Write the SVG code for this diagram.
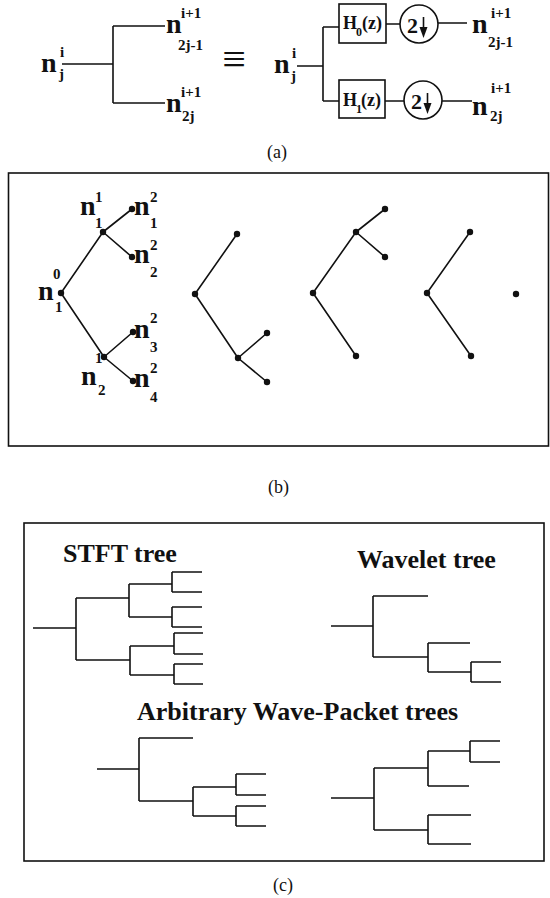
<svg xmlns="http://www.w3.org/2000/svg" width="550" height="898" viewBox="0 0 550 898">
<style>
.n{font-family:"Liberation Serif",serif;font-weight:bold;font-size:28px;fill:#111}
.s{font-family:"Liberation Serif",serif;font-weight:bold;font-size:15px;fill:#111}
.h{font-family:"Liberation Serif",serif;font-weight:bold;font-size:18px;fill:#111}
.hs{font-family:"Liberation Serif",serif;font-weight:bold;font-size:12px;fill:#111}
.two{font-family:"Liberation Serif",serif;font-weight:bold;font-size:22px;fill:#111}
.t{font-family:"Liberation Serif",serif;font-weight:bold;font-size:26px;fill:#111}
.cap{font-family:"Liberation Serif",serif;font-size:18px;fill:#111}
.ln{stroke:#111;stroke-width:1.6;fill:none}
.fr{stroke:#111;stroke-width:1.6;fill:none}
.dot{fill:#111}
</style>
<rect width="550" height="898" fill="#fff"/>

<!-- (a) left tree -->
<g id="a-tree">
<path class="ln" d="M62,64H113M113,26V103M113,26H165M113,103H165"/>
<text class="n" x="41" y="72">n</text><text class="s" x="60" y="57">i</text><text class="s" x="59" y="79">j</text>
<text class="n" x="166" y="33">n</text><text class="s" x="181" y="18">i+1</text><text class="s" x="178" y="50">2j-1</text>
<text class="n" x="166" y="112">n</text><text class="s" x="181" y="97">i+1</text><text class="s" x="182" y="121">2j</text>
</g>
<g id="equiv"><text x="234" y="73" text-anchor="middle" style="font-family:'Liberation Serif',serif;font-size:42px;fill:#111">≡</text></g>

<!-- (a) right filter bank -->
<g id="a-bank-connectors">
<path class="ln" d="M297,66H323M323,27V101M323,27H339M323,101H339M386,24H400M438,23H467M385,101H404M442,101H472"/>
</g>
<g id="a-in"><text class="n" x="274" y="73">n</text><text class="s" x="292" y="58">i</text><text class="s" x="291" y="81">j</text></g>
<g id="H0"><rect class="ln" x="339" y="4" width="47" height="39"/><text class="h" x="343" y="29">H</text><text class="hs" x="356" y="36">0</text><text class="h" x="362" y="29">(z)</text></g>
<g id="H1"><rect class="ln" x="339" y="80" width="46" height="38"/><text class="h" x="343" y="106">H</text><text class="hs" x="356" y="113">1</text><text class="h" x="361" y="106">(z)</text></g>
<g id="D0"><circle class="ln" cx="419" cy="24" r="19"/><text class="two" x="407" y="33">2</text><path class="ln" d="M423.5,17V29"/><path class="dot" d="M419.5,27H427.5L423.5,38Z"/></g>
<g id="D1"><circle class="ln" cx="423" cy="100" r="19"/><text class="two" x="411" y="109">2</text><path class="ln" d="M427.5,93V105"/><path class="dot" d="M423.5,103H431.5L427.5,114Z"/></g>
<g id="a-out0"><text class="n" x="472" y="33">n</text><text class="s" x="491" y="18">i+1</text><text class="s" x="488" y="47">2j-1</text></g>
<g id="a-out1"><text class="n" x="472" y="115">n</text><text class="s" x="491" y="93">i+1</text><text class="s" x="490" y="121">2j</text></g>
<text class="cap" x="267" y="158">(a)</text>

<!-- (b) -->
<rect class="fr" x="8.5" y="173" width="540" height="273"/>
<g id="b-connectors">
<path class="ln" d="M61,293L103,232M61,293L104,357M103,232L132,209M103,232L132,257M104,357L133,332M104,357L133,381"/>
<path class="ln" d="M195,294L237,234M195,294L238,358M238,358L267,333M238,358L267,382"/>
<path class="ln" d="M313,293L356,232M313,293L356,356M356,232L385,209M356,232L385,257"/>
<path class="ln" d="M427,293L470,232M427,293L471,356"/>
</g>
<g id="b-t1" class="dot">
<circle cx="61" cy="293" r="3.2"/><circle cx="103" cy="232" r="3.2"/><circle cx="104" cy="357" r="3.2"/>
<circle cx="132" cy="209" r="3.2"/><circle cx="132" cy="257" r="3.2"/><circle cx="133" cy="332" r="3.2"/><circle cx="133" cy="381" r="3.2"/>
</g>
<g id="b-labels">
<text class="n" x="38" y="300">n</text><text class="s" x="53" y="279">0</text><text class="s" x="55" y="312">1</text>
<text class="n" x="80" y="215">n</text><text class="s" x="95" y="202">1</text><text class="s" x="95" y="228">1</text>
<text class="n" x="134" y="215">n</text><text class="s" x="150" y="202">2</text><text class="s" x="150" y="228">1</text>
<text class="n" x="134" y="263">n</text><text class="s" x="150" y="250">2</text><text class="s" x="150" y="277">2</text>
<text class="n" x="134" y="338">n</text><text class="s" x="150" y="323">2</text><text class="s" x="150" y="352">3</text>
<text class="n" x="134" y="387">n</text><text class="s" x="150" y="373">2</text><text class="s" x="150" y="402">4</text>
<text class="n" x="81" y="385">n</text><text class="s" x="95" y="363">1</text><text class="s" x="98" y="395">2</text>
</g>
<g id="b-t2" class="dot"><circle cx="195" cy="294" r="3.2"/><circle cx="237" cy="234" r="3.2"/><circle cx="238" cy="358" r="3.2"/><circle cx="267" cy="333" r="3.2"/><circle cx="267" cy="382" r="3.2"/></g>
<g id="b-t3" class="dot"><circle cx="313" cy="293" r="3.2"/><circle cx="356" cy="232" r="3.2"/><circle cx="356" cy="356" r="3.2"/><circle cx="385" cy="209" r="3.2"/><circle cx="385" cy="257" r="3.2"/></g>
<g id="b-t4" class="dot"><circle cx="427" cy="293" r="3.2"/><circle cx="470" cy="232" r="3.2"/><circle cx="471" cy="356" r="3.2"/></g>
<g id="b-t5" class="dot"><circle cx="516" cy="294" r="3.2"/></g>
<text class="cap" x="268" y="493">(b)</text>

<!-- (c) -->
<rect class="fr" x="24" y="523" width="520" height="338"/>
<text class="t" x="63" y="562">STFT tree</text>
<text class="t" x="357" y="568">Wavelet tree</text>
<text class="t" x="137" y="720">Arbitrary Wave-Packet trees</text>
<g id="c-stft">
<path class="ln" d="M33,628H76M76,598V660M76,598H129M129,584V617M129,584H172M172,572V592M172,572H202M172,592H202M129,617H172M172,607V627M172,607H202M172,627H202M76,660H130M130,646V675M130,646H174M174,633V654M174,633H203M174,654H203M130,675H174M174,664V684M174,664H203M174,684H203"/>
</g>
<g id="c-wavelet">
<path class="ln" d="M331,626H373M373,596V657M373,596H428M373,657H428M428,643V672M428,643H470M428,672H471M471,662V682M471,662H501M471,682H501"/>
</g>
<g id="c-arb1">
<path class="ln" d="M97,769H139M139,738V801M139,738H193M139,801H193M193,787V816M193,787H236M236,774V795M236,774H266M236,795H266M193,816H236M236,806V826M236,806H266M236,826H266"/>
</g>
<g id="c-arb2">
<path class="ln" d="M331,798H374M374,768V830M374,768H428M428,751V786M428,751H470M470,741V762M470,741H500M470,762H500M428,786H469M374,830H428M428,815V844M428,815H471M428,844H471"/>
</g>
<text class="cap" x="273" y="891">(c)</text>
</svg>
